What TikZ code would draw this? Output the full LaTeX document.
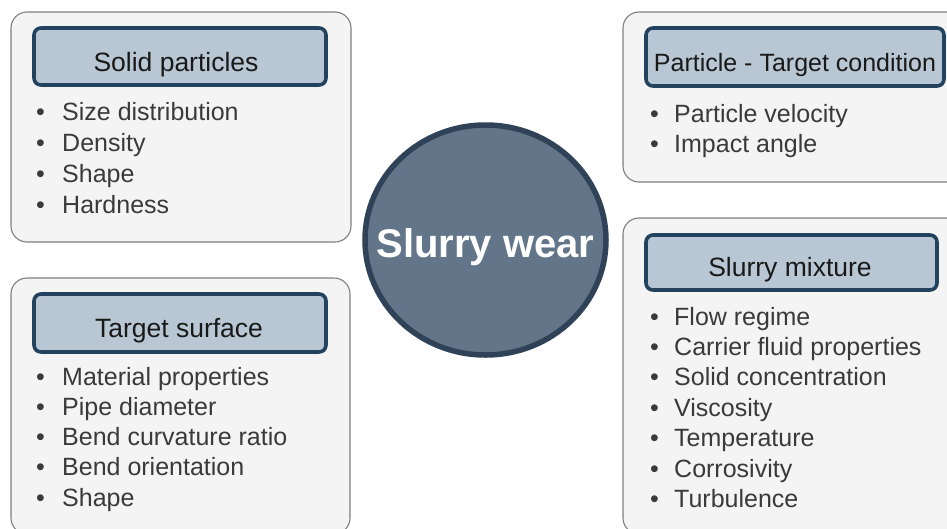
\documentclass[tikz,border=0pt]{standalone}
\usepackage{fontspec}
\setmainfont{Liberation Sans}
\usetikzlibrary{shapes.geometric}

\definecolor{panelfill}{HTML}{F4F4F4}
\definecolor{panelline}{HTML}{7F7F7F}
\definecolor{headfill}{HTML}{B8C7D3}
\definecolor{headline}{HTML}{22425E}
\definecolor{hubfill}{HTML}{627589}
\definecolor{hubline}{HTML}{2F4257}
\definecolor{itemtext}{HTML}{3A3A3A}

\tikzset{
  panel/.style={draw=panelline, fill=panelfill, line width=1.1pt, rounded corners=16pt},
  headbox/.style={draw=headline, fill=headfill, line width=3.6pt, rounded corners=7pt},
  headtext/.style={anchor=base, inner sep=0pt, text=black!90, font=\fontsize{26.5}{30}\selectfont},
  itemdot/.style={anchor=base west, inner sep=0pt, text=itemtext, font=\fontsize{25}{30}\selectfont},
  itemtxt/.style={anchor=base west, inner sep=0pt, text=itemtext, font=\fontsize{25}{30}\selectfont},
}

\begin{document}
\begin{tikzpicture}[x=1pt, y=-1pt]
  \useasboundingbox (0,0) rectangle (947,528);
  \clip (0,0) rectangle (947,528);

  % outer panels
  \draw[panel] (11,12) rectangle (351,242);
  \draw[panel] (11,278) rectangle (350,534);
  \draw[panel] (623,12) rectangle (970,182);
  \draw[panel] (623,218) rectangle (970,534);

  % heading boxes
  \draw[headbox] (34,28) rectangle (326,85);
  \draw[headbox] (646,28) rectangle (944,86);
  \draw[headbox] (646,235) rectangle (937,290);
  \draw[headbox] (34,294) rectangle (326,352);

  \node[headtext] (hsolid) at (176,71) {Solid particles};
  \node[headtext, font=\fontsize{25}{30}\selectfont] (hcond) at (795,71.5) {Particle - Target condition};
  \node[headtext] (hmix) at (790,276) {Slurry mixture};
  \node[headtext] (hsurf) at (179,337.5) {Target surface};

  % central hub
  \node[ellipse, draw=hubline, fill=hubfill, line width=5.5pt,
        minimum width=241pt, minimum height=230pt, inner sep=0pt] (hub) at (485.5,240) {};
  \node[anchor=base, inner sep=0pt, text=white, font=\bfseries\fontsize{40}{44}\selectfont]
        (hubtext) at (485.5,257) {Slurry wear};

  % bullet lists
  \foreach \t [count=\i from 0] in {Size distribution, Density, Shape, Hardness} {
    \node[itemdot] (sd\i) at (36,120.5+31*\i) {•};
    \node[itemtxt] (st\i) at (62,120.5+31*\i) {\t};
  }
  \foreach \t [count=\i from 0] in {Particle velocity, Impact angle} {
    \node[itemdot] (cd\i) at (650,122+30*\i) {•};
    \node[itemtxt] (ct\i) at (674,122+30*\i) {\t};
  }
  \foreach \t [count=\i from 0] in {Flow regime, Carrier fluid properties, Solid concentration,
      Viscosity, Temperature, Corrosivity, Turbulence} {
    \node[itemdot] (md\i) at (650,325+30.4*\i) {•};
    \node[itemtxt] (mt\i) at (674,325+30.4*\i) {\t};
  }
  \foreach \t [count=\i from 0] in {Material properties, Pipe diameter, Bend curvature ratio,
      Bend orientation, Shape} {
    \node[itemdot] (ud\i) at (36,385+30.3*\i) {•};
    \node[itemtxt] (ut\i) at (62,385+30.3*\i) {\t};
  }
\end{tikzpicture}
\end{document}
